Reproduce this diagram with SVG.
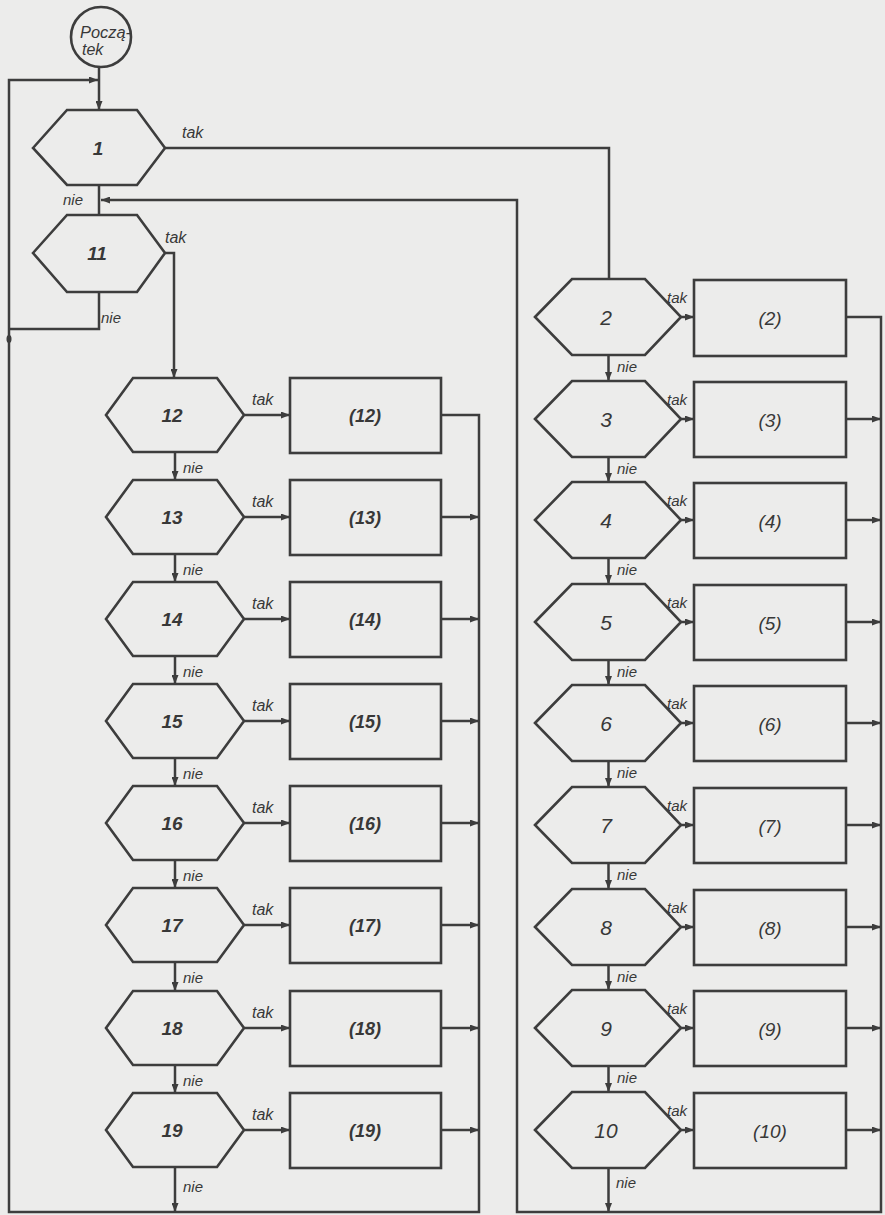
<svg xmlns="http://www.w3.org/2000/svg" width="885" height="1215" viewBox="0 0 885 1215">
<defs>
<marker id="ah" markerUnits="userSpaceOnUse" markerWidth="10" markerHeight="7" refX="9" refY="3.5" orient="auto">
<path d="M0,0 L9,3.5 L0,7 z" fill="#3d3d3d"/>
</marker>
<style>
.s{fill:none;stroke:#3d3d3d;stroke-width:2.5;stroke-linejoin:miter}
.a{marker-end:url(#ah)}
.h{fill:#ececeb;stroke:#3d3d3d;stroke-width:2.6}
.t{font-family:"Liberation Sans",Arial,sans-serif;font-style:italic;fill:#383838}
.nb{font-size:19px;font-weight:bold;text-anchor:middle}
.nr{font-size:21px;text-anchor:middle}
.bl{font-size:18px;font-weight:bold;text-anchor:middle}
.br{font-size:19px;text-anchor:middle}
.lb{font-size:16px}
.ls{font-size:15px}
</style>
</defs>
<rect width="885" height="1215" fill="#ececeb"/>
<g id="connectors">
<path class="s a" d="M99,67 V110"/>
<path class="s" d="M165,148 H609 V280"/>
<path class="s" d="M99,185 V215"/>
<path class="s a" d="M165,253 H174 V378"/>
<path class="s" d="M99,292 V329 H9"/>
<path class="s a" d="M441,415 H479 V1212 H9 V80 H98"/>
<path class="s a" d="M846,317 H881 V1212 H517 V200 H101"/>
<ellipse cx="9" cy="339" rx="2.5" ry="4" fill="#3d3d3d"/>
<path class="s a" d="M244,415 H290"/>
<path class="s a" d="M244,517 H290"/>
<path class="s a" d="M244,619 H290"/>
<path class="s a" d="M244,721 H290"/>
<path class="s a" d="M244,823 H290"/>
<path class="s a" d="M244,925 H290"/>
<path class="s a" d="M244,1028 H290"/>
<path class="s a" d="M244,1130 H290"/>
<path class="s a" d="M441,517 H479"/>
<path class="s a" d="M441,619 H479"/>
<path class="s a" d="M441,721 H479"/>
<path class="s a" d="M441,823 H479"/>
<path class="s a" d="M441,925 H479"/>
<path class="s a" d="M441,1028 H479"/>
<path class="s a" d="M441,1130 H479"/>
<path class="s a" d="M175,452 V480"/>
<path class="s a" d="M175,554 V582"/>
<path class="s a" d="M175,656 V684"/>
<path class="s a" d="M175,758 V786"/>
<path class="s a" d="M175,860 V888"/>
<path class="s a" d="M175,962 V991"/>
<path class="s a" d="M175,1065 V1093"/>
<path class="s a" d="M175,1167 V1212"/>
<path class="s a" d="M681,317 H694"/>
<path class="s a" d="M681,419 H694"/>
<path class="s a" d="M681,520 H694"/>
<path class="s a" d="M681,622 H694"/>
<path class="s a" d="M681,723 H694"/>
<path class="s a" d="M681,825 H694"/>
<path class="s a" d="M681,927 H694"/>
<path class="s a" d="M681,1028 H694"/>
<path class="s a" d="M681,1130 H694"/>
<path class="s a" d="M846,419 H881"/>
<path class="s a" d="M846,520 H881"/>
<path class="s a" d="M846,622 H881"/>
<path class="s a" d="M846,723 H881"/>
<path class="s a" d="M846,825 H881"/>
<path class="s a" d="M846,927 H881"/>
<path class="s a" d="M846,1028 H881"/>
<path class="s a" d="M846,1130 H881"/>
<path class="s a" d="M608.5,355 V381"/>
<path class="s a" d="M608.5,457 V482"/>
<path class="s a" d="M608.5,558 V584"/>
<path class="s a" d="M608.5,660 V685"/>
<path class="s a" d="M608.5,761 V787"/>
<path class="s a" d="M608.5,863 V889"/>
<path class="s a" d="M608.5,965 V990"/>
<path class="s a" d="M608.5,1066 V1092"/>
<path class="s a" d="M608.5,1168 V1212"/>
<text class="t lb" x="182" y="138">tak</text>
<text class="t lb" x="165" y="243">tak</text>
<text class="t ls" x="63" y="205">nie</text>
<text class="t ls" x="101" y="323">nie</text>
<text class="t lb" x="252" y="405">tak</text>
<text class="t lb" x="252" y="507">tak</text>
<text class="t lb" x="252" y="609">tak</text>
<text class="t lb" x="252" y="711">tak</text>
<text class="t lb" x="252" y="813">tak</text>
<text class="t lb" x="252" y="915">tak</text>
<text class="t lb" x="252" y="1018">tak</text>
<text class="t lb" x="252" y="1120">tak</text>
<text class="t ls" x="183" y="473">nie</text>
<text class="t ls" x="183" y="575">nie</text>
<text class="t ls" x="183" y="677">nie</text>
<text class="t ls" x="183" y="779">nie</text>
<text class="t ls" x="183" y="881">nie</text>
<text class="t ls" x="183" y="983">nie</text>
<text class="t ls" x="183" y="1086">nie</text>
<text class="t ls" x="183" y="1192">nie</text>
<text class="t ls" x="667" y="303">tak</text>
<text class="t ls" x="667" y="405">tak</text>
<text class="t ls" x="667" y="506">tak</text>
<text class="t ls" x="667" y="608">tak</text>
<text class="t ls" x="667" y="709">tak</text>
<text class="t ls" x="667" y="811">tak</text>
<text class="t ls" x="667" y="913">tak</text>
<text class="t ls" x="667" y="1014">tak</text>
<text class="t ls" x="667" y="1116">tak</text>
<text class="t ls" x="617" y="372">nie</text>
<text class="t ls" x="617" y="474">nie</text>
<text class="t ls" x="617" y="575">nie</text>
<text class="t ls" x="617" y="677">nie</text>
<text class="t ls" x="617" y="778">nie</text>
<text class="t ls" x="617" y="880">nie</text>
<text class="t ls" x="617" y="982">nie</text>
<text class="t ls" x="617" y="1083">nie</text>
<text class="t ls" x="616" y="1188">nie</text>
</g>
<g id="start">
<circle class="h" cx="101" cy="37" r="30"/>
<text class="t" x="80" y="38" font-size="16" textLength="51" lengthAdjust="spacingAndGlyphs">Począ-</text>
<text class="t" x="82" y="55" font-size="16">tek</text>
</g>
<g id="d1"><polygon class="h" points="33,148 67,110 137,110 165,148 137,185 67,185"/><text class="t nb" x="98" y="155">1</text></g>
<g id="d11"><polygon class="h" points="33,253 67,215 137,215 165,253 137,292 67,292"/><text class="t nb" x="97" y="260">11</text></g>
<g id="d12"><polygon class="h" points="106,415 133,378 217,378 244,415 217,452 133,452"/><text class="t nb" x="172" y="422">12</text></g>
<g id="d13"><polygon class="h" points="106,517 133,480 217,480 244,517 217,554 133,554"/><text class="t nb" x="172" y="524">13</text></g>
<g id="d14"><polygon class="h" points="106,619 133,582 217,582 244,619 217,656 133,656"/><text class="t nb" x="172" y="626">14</text></g>
<g id="d15"><polygon class="h" points="106,721 133,684 217,684 244,721 217,758 133,758"/><text class="t nb" x="172" y="728">15</text></g>
<g id="d16"><polygon class="h" points="106,823 133,786 217,786 244,823 217,860 133,860"/><text class="t nb" x="172" y="830">16</text></g>
<g id="d17"><polygon class="h" points="106,925 133,888 217,888 244,925 217,962 133,962"/><text class="t nb" x="172" y="932">17</text></g>
<g id="d18"><polygon class="h" points="106,1028 133,991 217,991 244,1028 217,1065 133,1065"/><text class="t nb" x="172" y="1035">18</text></g>
<g id="d19"><polygon class="h" points="106,1130 133,1093 217,1093 244,1130 217,1167 133,1167"/><text class="t nb" x="172" y="1137">19</text></g>
<g id="b12"><rect class="h" x="290" y="378" width="151" height="75"/><text class="t bl" x="365" y="422">(12)</text></g>
<g id="b13"><rect class="h" x="290" y="480" width="151" height="75"/><text class="t bl" x="365" y="524">(13)</text></g>
<g id="b14"><rect class="h" x="290" y="582" width="151" height="75"/><text class="t bl" x="365" y="626">(14)</text></g>
<g id="b15"><rect class="h" x="290" y="684" width="151" height="75"/><text class="t bl" x="365" y="728">(15)</text></g>
<g id="b16"><rect class="h" x="290" y="786" width="151" height="75"/><text class="t bl" x="365" y="830">(16)</text></g>
<g id="b17"><rect class="h" x="290" y="888" width="151" height="75"/><text class="t bl" x="365" y="932">(17)</text></g>
<g id="b18"><rect class="h" x="290" y="991" width="151" height="75"/><text class="t bl" x="365" y="1035">(18)</text></g>
<g id="b19"><rect class="h" x="290" y="1093" width="151" height="75"/><text class="t bl" x="365" y="1137">(19)</text></g>
<g id="d2"><polygon class="h" points="535,317 572,279 645,279 681,317 645,355 572,355"/><text class="t nr" x="606" y="325">2</text></g>
<g id="d3"><polygon class="h" points="535,419 572,381 645,381 681,419 645,457 572,457"/><text class="t nr" x="606" y="427">3</text></g>
<g id="d4"><polygon class="h" points="535,520 572,482 645,482 681,520 645,558 572,558"/><text class="t nr" x="606" y="528">4</text></g>
<g id="d5"><polygon class="h" points="535,622 572,584 645,584 681,622 645,660 572,660"/><text class="t nr" x="606" y="630">5</text></g>
<g id="d6"><polygon class="h" points="535,723 572,685 645,685 681,723 645,761 572,761"/><text class="t nr" x="606" y="731">6</text></g>
<g id="d7"><polygon class="h" points="535,825 572,787 645,787 681,825 645,863 572,863"/><text class="t nr" x="606" y="833">7</text></g>
<g id="d8"><polygon class="h" points="535,927 572,889 645,889 681,927 645,965 572,965"/><text class="t nr" x="606" y="935">8</text></g>
<g id="d9"><polygon class="h" points="535,1028 572,990 645,990 681,1028 645,1066 572,1066"/><text class="t nr" x="606" y="1036">9</text></g>
<g id="d10"><polygon class="h" points="535,1130 572,1092 645,1092 681,1130 645,1168 572,1168"/><text class="t nr" x="606" y="1138">10</text></g>
<g id="b2"><rect class="h" x="694" y="280" width="152" height="76"/><text class="t br" x="770" y="325">(2)</text></g>
<g id="b3"><rect class="h" x="694" y="382" width="152" height="75"/><text class="t br" x="770" y="427">(3)</text></g>
<g id="b4"><rect class="h" x="694" y="483" width="152" height="75"/><text class="t br" x="770" y="528">(4)</text></g>
<g id="b5"><rect class="h" x="694" y="585" width="152" height="75"/><text class="t br" x="770" y="630">(5)</text></g>
<g id="b6"><rect class="h" x="694" y="686" width="152" height="75"/><text class="t br" x="770" y="731">(6)</text></g>
<g id="b7"><rect class="h" x="694" y="788" width="152" height="75"/><text class="t br" x="770" y="833">(7)</text></g>
<g id="b8"><rect class="h" x="694" y="890" width="152" height="75"/><text class="t br" x="770" y="935">(8)</text></g>
<g id="b9"><rect class="h" x="694" y="991" width="152" height="75"/><text class="t br" x="770" y="1036">(9)</text></g>
<g id="b10"><rect class="h" x="694" y="1093" width="152" height="75"/><text class="t br" x="770" y="1138">(10)</text></g>
</svg>
